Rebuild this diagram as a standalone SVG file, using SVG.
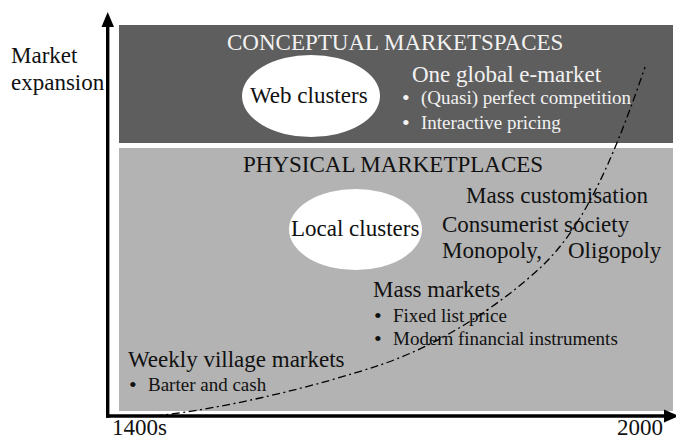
<svg xmlns="http://www.w3.org/2000/svg" width="676" height="439" viewBox="0 0 676 439">
<style>
text{font-family:"Liberation Serif","Times New Roman",serif;}
.big{font-size:23px;}
.sm{font-size:19px;}
.b{font-size:22px;}
.w{fill:#f2f2f2;}
.k{fill:#111;}
.ax{stroke:#000;stroke-width:3.4;fill:none;}
.ell{fill:#fff;}
</style>
<g id="regions">
<rect id="conceptual" x="119" y="25" width="554" height="118" fill="#5e5e5e"/>
<rect id="physical" x="119" y="148" width="554" height="263" fill="#b3b3b3"/>
</g>
<g id="axes">
<line class="ax" x1="107.7" y1="417.7" x2="107.7" y2="24"/>
<polygon points="107.7,12 101.5,27 114,27" fill="#000"/>
<line class="ax" x1="106" y1="416" x2="666" y2="416"/>
<polygon points="679,416 664,409.5 664,422.5" fill="#000"/>
<text class="big k" x="11" y="63">Market</text>
<text class="big k" x="11" y="90">expansion</text>
<text class="big k" x="112" y="435">1400s</text>
<text class="big k" x="617" y="435">2000</text>
</g>
<g id="conceptual-title"><text class="big w" x="227" y="50">CONCEPTUAL MARKETSPACES</text></g>
<g id="web-clusters">
<ellipse class="ell" cx="311" cy="96" rx="69" ry="41"/>
<text class="big k" x="250" y="103">Web clusters</text>
</g>
<g id="global-emarket">
<text class="big w" x="412" y="82">One global e-market</text>
<text class="b w" x="402" y="105">•</text>
<text class="sm w" x="421" y="104">(Quasi) perfect competition</text>
<text class="b w" x="402" y="130">•</text>
<text class="sm w" x="421" y="129">Interactive pricing</text>
</g>
<g id="physical-title"><text class="big k" x="243" y="172">PHYSICAL MARKETPLACES</text></g>
<g id="local-clusters">
<ellipse class="ell" cx="355.5" cy="229.5" rx="66.5" ry="40.5"/>
<text class="big k" x="291" y="236">Local clusters</text>
</g>
<g id="modern-markets">
<text class="big k" x="466" y="203">Mass customisation</text>
<text class="big k" x="442" y="232">Consumerist society</text>
<text class="big k" x="442" y="258">Monopoly,</text>
<text class="big k" x="568" y="258">Oligopoly</text>
</g>
<g id="mass-markets">
<text class="big k" x="373" y="297">Mass markets</text>
<text class="b k" x="374" y="323">•</text>
<text class="sm k" x="393" y="322">Fixed list price</text>
<text class="b k" x="374" y="346">•</text>
<text class="sm k" x="393" y="345">Modern financial instruments</text>
</g>
<g id="village-markets">
<text class="big k" x="128" y="367">Weekly village markets</text>
<text class="b k" x="129" y="392">•</text>
<text class="sm k" x="148" y="391">Barter and cash</text>
</g>
<g id="connectors">
<path d="M155,416 C230,408 320,385 380,365 S500,305 540,268 S610,170 645,67" fill="none" stroke="#000" stroke-width="1.3" stroke-dasharray="8,3.5,2,3.5"/>
</g>
</svg>
